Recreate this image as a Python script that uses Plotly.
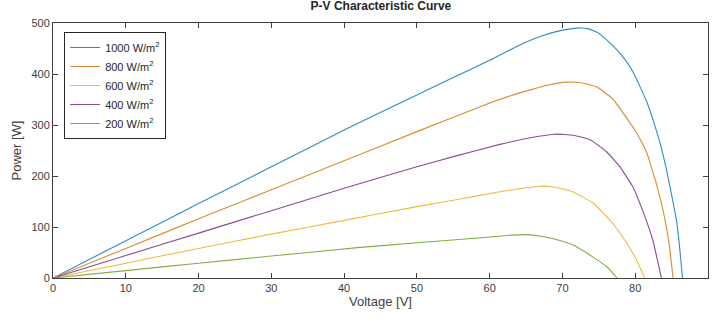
import plotly.graph_objects as go

labels = ["1000 W/m<sup>2</sup>", "800 W/m<sup>2</sup>", "600 W/m<sup>2</sup>", "400 W/m<sup>2</sup>", "200 W/m<sup>2</sup>"]
colors = ["#2E8CCB", "#DC8A35", "#EDBA3A", "#8A4A98", "#80AE45"]

v_1000 = [0, 10, 20, 30, 40, 50, 55, 60, 64, 67, 70, 72, 73.5, 75, 76.9, 78.5, 79.7, 81.6, 82.4, 83.4, 84.3, 85.0, 85.7, 86.1, 86.5]
p_1000 = [0, 73, 146, 218, 290, 359, 393, 427, 456, 474, 486, 490, 489, 480, 456, 430, 404, 345, 312, 265, 212, 163, 110, 60, 0]

v_800 = [0, 10, 20, 30, 40, 50, 58.7, 63, 67.9, 70.6, 72.5, 74.7, 76.9, 79, 80.3, 81.6, 83.0, 84.1, 84.7, 85.2]
p_800 = [0, 58, 116, 173, 230, 287, 336, 358, 378, 384, 383, 375, 351, 310, 282, 245, 180, 114, 62, 0]

v_600 = [0, 10, 20, 30, 40, 50, 56, 61, 64, 66.9, 69, 71.4, 74.2, 76.5, 78.3, 80.2, 81.3]
p_600 = [0, 29, 58, 86, 113, 140, 155, 168, 175, 180, 178, 169, 147, 114, 80, 35, 0]

v_400 = [0, 10, 20, 30, 40, 50, 55, 61.4, 66, 69, 71.5, 73.8, 76.1, 77.9, 79.7, 81, 82.4, 83.6]
p_400 = [0, 44, 88, 132, 176, 218, 238, 262, 276, 282, 280, 271, 247, 218, 178, 133, 75, 0]

v_200 = [0, 10, 20, 30, 42.2, 50, 58, 63, 65, 67, 69, 71.4, 74.2, 76.1, 77.5]
p_200 = [0, 14.5, 29, 43, 60, 69, 78, 84, 85, 82, 76, 65, 41, 22, 0]

volts = [v_1000, v_800, v_600, v_400, v_200]
powers = [p_1000, p_800, p_600, p_400, p_200]

x_ticks = [0, 10, 20, 30, 40, 50, 60, 70, 80, 90]
y_ticks = [0, 100, 200, 300, 400, 500]

fig = go.Figure()
for lab, col, v, p in zip(labels, colors, volts, powers):
    fig.add_trace(go.Scatter(x=v, y=p, mode="lines", name=lab,
                             line=dict(color=col, width=1.1, shape="spline", smoothing=0.4)))

axis_common = dict(showgrid=False, zeroline=False, showline=True, linecolor="#404040",
                   linewidth=1, mirror="ticks", ticks="inside", ticklen=5,
                   tickcolor="#404040", tickfont=dict(size=11, color="#404040"))

fig.update_layout(
    width=712, height=325,
    margin=dict(l=53, r=4, t=23, b=47),
    paper_bgcolor="white", plot_bgcolor="white",
    font=dict(family="Liberation Sans, Arial, sans-serif", color="#262626"),
    title=dict(text="<b>P-V Characteristic Curve</b>", x=0.535, xanchor="center",
               y=0.995, yanchor="top", font=dict(size=12, color="#262626")),
    xaxis=dict(range=[0, 90], tickvals=x_ticks,
               title=dict(text="Voltage [V]", font=dict(size=13, color="#404040"), standoff=3),
               **axis_common),
    yaxis=dict(range=[0, 500], tickvals=y_ticks,
               title=dict(text="Power [W]", font=dict(size=13, color="#404040"), standoff=6),
               **axis_common),
    showlegend=True,
    legend=dict(x=0.017, y=0.965, xanchor="left", yanchor="top",
                bgcolor="white", bordercolor="#262626", borderwidth=1,
                font=dict(size=11, color="#262626"), tracegroupgap=0,
                itemwidth=30),
)

fig.write_html("out.html")
